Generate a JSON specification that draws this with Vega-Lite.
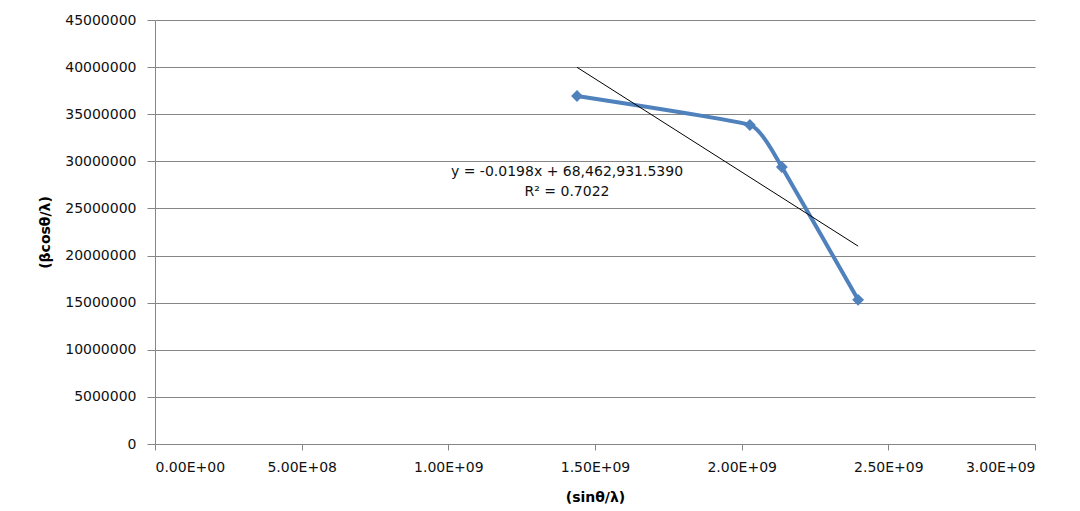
{
  "$schema": "https://vega.github.io/schema/vega-lite/v6.json",
  "autosize": {"type": "none"},
  "width": 880,
  "height": 424,
  "padding": {"left": 155, "top": 20, "right": 45, "bottom": 67},
  "background": "white",
  "config": {
    "view": {"stroke": null},
    "font": "DejaVu Sans",
    "axis": {
      "labelFont": "DejaVu Sans",
      "labelFontSize": 14,
      "labelColor": "#111111",
      "titleFont": "DejaVu Sans",
      "titleFontSize": 14,
      "titleFontWeight": "bold",
      "titleColor": "#000000",
      "domainColor": "#868686",
      "tickColor": "#868686",
      "gridColor": "#868686",
      "gridOpacity": 1
    }
  },
  "datasets": {
    "points": [
      {"x": 1438600000, "y": 36930000},
      {"x": 2028000000, "y": 33860000},
      {"x": 2137000000, "y": 29400000},
      {"x": 2397000000, "y": 15300000}
    ],
    "trend": [
      {"x": 1438600000, "y": 39979651.3},
      {"x": 2397000000, "y": 21002331.5}
    ],
    "labels": [
      {"x": 1404500000, "y": 28870000, "t": "y = -0.0198x + 68,462,931.5390"},
      {"x": 1404500000, "y": 26750000, "t": "R² = 0.7022"}
    ]
  },
  "layer": [
    {
      "data": {"name": "points"},
      "mark": {"type": "line", "color": "#4F81BD", "strokeWidth": 4, "interpolate": "cardinal", "tension": 0.65},
      "encoding": {
        "x": {
          "field": "x", "type": "quantitative",
          "scale": {"domain": [0, 3000000000], "nice": false, "zero": false},
          "axis": {
            "values": [0, 500000000, 1000000000, 1500000000, 2000000000, 2500000000, 3000000000],
            "labelExpr": "replace(upper(format(datum.value, '.2e')), regexp('E([+-])(\\\\d)$'), 'E$10$2')",
            "grid": false,
            "tickSize": 6,
            "labelPadding": 10,
            "title": "(sinθ/λ)",
            "titlePadding": 16
          }
        },
        "y": {
          "field": "y", "type": "quantitative",
          "scale": {"domain": [0, 45000000], "nice": false},
          "axis": {
            "values": [0, 5000000, 10000000, 15000000, 20000000, 25000000, 30000000, 35000000, 40000000, 45000000],
            "format": "d",
            "grid": true,
            "tickSize": 8,
            "labelPadding": 11,
            "title": "(βcosθ/λ)",
            "titlePadding": 12
          }
        }
      }
    },
    {
      "data": {"name": "points"},
      "mark": {"type": "point", "shape": "diamond", "filled": true, "color": "#4F81BD", "size": 140, "opacity": 1},
      "encoding": {
        "x": {"field": "x", "type": "quantitative"},
        "y": {"field": "y", "type": "quantitative"}
      }
    },
    {
      "data": {"name": "trend"},
      "mark": {"type": "line", "color": "#000000", "strokeWidth": 1},
      "encoding": {
        "x": {"field": "x", "type": "quantitative"},
        "y": {"field": "y", "type": "quantitative"}
      }
    },
    {
      "data": {"name": "labels"},
      "mark": {"type": "text", "fontSize": 14, "color": "#111111", "align": "center", "baseline": "middle"},
      "encoding": {
        "x": {"field": "x", "type": "quantitative"},
        "y": {"field": "y", "type": "quantitative"},
        "text": {"field": "t"}
      }
    }
  ]
}
